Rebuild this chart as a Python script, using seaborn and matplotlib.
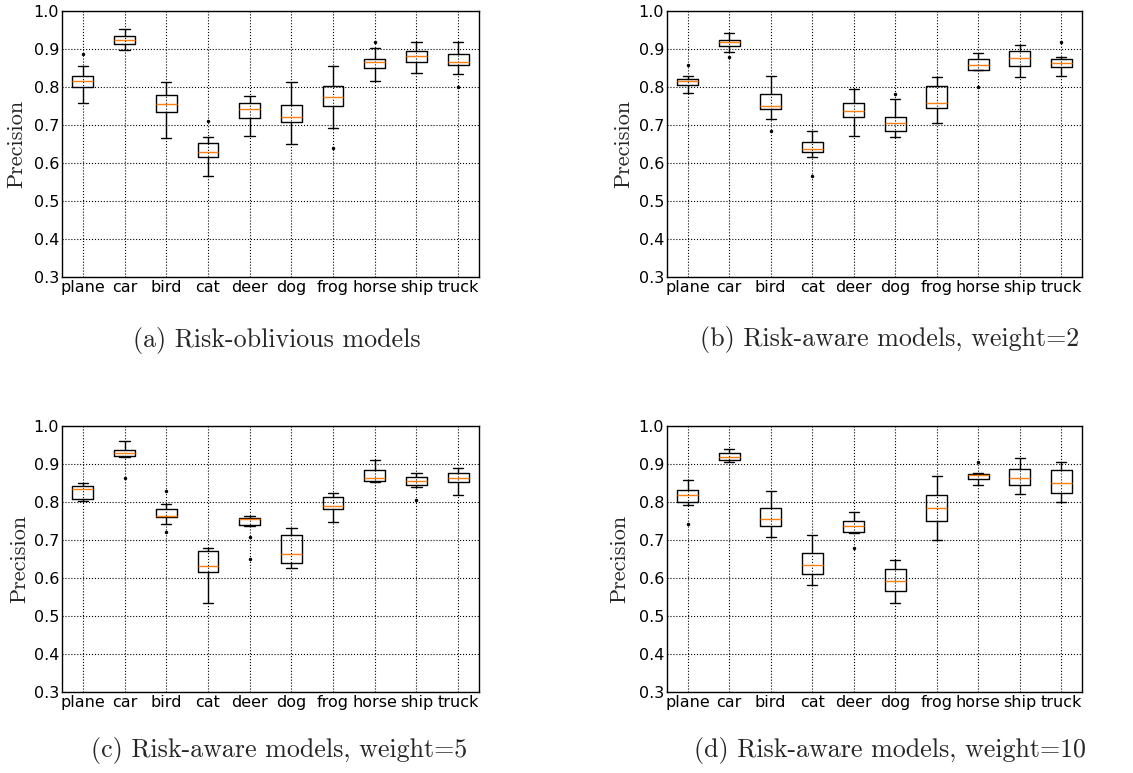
import matplotlib
matplotlib.use("Agg")
import matplotlib.pyplot as plt
import seaborn as sns
import pandas as pd

categories = ["plane", "car", "bird", "cat", "deer", "dog", "frog", "horse", "ship", "truck"]

# five-number summaries per category: whisker low, q1, median, q3, whisker high
a_low = [0.758, 0.898, 0.667, 0.566, 0.672, 0.649, 0.693, 0.817, 0.837, 0.833]
a_q1 = [0.800, 0.913, 0.734, 0.617, 0.718, 0.708, 0.749, 0.849, 0.865, 0.857]
a_med = [0.815, 0.924, 0.756, 0.628, 0.741, 0.722, 0.775, 0.866, 0.882, 0.865]
a_q3 = [0.829, 0.933, 0.779, 0.652, 0.758, 0.753, 0.803, 0.873, 0.894, 0.888]
a_high = [0.854, 0.953, 0.812, 0.668, 0.777, 0.812, 0.856, 0.903, 0.919, 0.918]
a_out_cat = ["plane", "cat", "frog", "horse", "truck"]
a_out_val = [0.888, 0.710, 0.639, 0.919, 0.799]

b_low = [0.784, 0.891, 0.715, 0.616, 0.672, 0.669, 0.706, 0.845, 0.826, 0.829]
b_q1 = [0.804, 0.907, 0.743, 0.628, 0.720, 0.683, 0.746, 0.846, 0.855, 0.852]
b_med = [0.816, 0.919, 0.751, 0.638, 0.738, 0.706, 0.759, 0.857, 0.877, 0.862]
b_q3 = [0.820, 0.925, 0.782, 0.656, 0.757, 0.722, 0.803, 0.875, 0.895, 0.875]
b_high = [0.828, 0.941, 0.830, 0.683, 0.796, 0.769, 0.827, 0.890, 0.910, 0.880]
b_out_cat = ["plane", "car", "bird", "cat", "dog", "horse", "truck"]
b_out_val = [0.859, 0.880, 0.683, 0.567, 0.781, 0.800, 0.918]

c_low = [0.803, 0.918, 0.741, 0.535, 0.737, 0.627, 0.748, 0.853, 0.840, 0.818]
c_q1 = [0.808, 0.920, 0.761, 0.616, 0.740, 0.640, 0.781, 0.855, 0.846, 0.852]
c_med = [0.834, 0.930, 0.762, 0.632, 0.755, 0.664, 0.789, 0.862, 0.855, 0.864]
c_q3 = [0.843, 0.937, 0.782, 0.671, 0.759, 0.714, 0.813, 0.884, 0.866, 0.876]
c_high = [0.849, 0.961, 0.796, 0.679, 0.762, 0.732, 0.825, 0.911, 0.877, 0.890]
c_out_cat = ["car", "bird", "bird", "deer", "deer", "ship"]
c_out_val = [0.864, 0.828, 0.721, 0.708, 0.650, 0.804]

d_low = [0.791, 0.904, 0.707, 0.581, 0.718, 0.535, 0.699, 0.845, 0.822, 0.801]
d_q1 = [0.801, 0.911, 0.738, 0.611, 0.722, 0.566, 0.750, 0.860, 0.846, 0.825]
d_med = [0.818, 0.918, 0.755, 0.633, 0.738, 0.593, 0.783, 0.870, 0.863, 0.851]
d_q3 = [0.832, 0.930, 0.784, 0.667, 0.750, 0.624, 0.818, 0.875, 0.887, 0.885]
d_high = [0.858, 0.939, 0.829, 0.714, 0.774, 0.647, 0.868, 0.877, 0.915, 0.904]
d_out_cat = ["plane", "deer", "horse"]
d_out_val = [0.742, 0.678, 0.906]

captions = [
    "(a) Risk-oblivious models",
    "(b) Risk-aware models, weight=2",
    "(c) Risk-aware models, weight=5",
    "(d) Risk-aware models, weight=10",
]
y_ticks = [0.3, 0.4, 0.5, 0.6, 0.7, 0.8, 0.9, 1.0]
y_label = "Precision"

panels = [
    (a_low, a_q1, a_med, a_q3, a_high, a_out_cat, a_out_val),
    (b_low, b_q1, b_med, b_q3, b_high, b_out_cat, b_out_val),
    (c_low, c_q1, c_med, c_q3, c_high, c_out_cat, c_out_val),
    (d_low, d_q1, d_med, d_q3, d_high, d_out_cat, d_out_val),
]

sns.set_style("white")
plt.rcParams["font.family"] = ["DejaVu Sans"]

W, H = 1133, 773
fig = plt.figure(figsize=(W / 100, H / 100), dpi=100)

ax_px = [(62, 11), (667, 11), (62, 426), (667, 426)]
ax_w, ax_h = [417, 415, 417, 415], 266
cap_px = [(277, 340), (890, 339), (279, 751), (890, 751)]
lab_off = [-0.086, -0.082, -0.079, -0.092]

serif = "cmr10"

for i, (lo, q1, med, q3, hi, oc, ov) in enumerate(panels):
    x0, y0 = ax_px[i]
    ax = fig.add_axes([x0 / W, 1 - (y0 + ax_h) / H, ax_w[i] / W, ax_h / H])
    rows = []
    for j, c in enumerate(categories):
        for v in (lo[j], q1[j], med[j], q3[j], hi[j]):
            rows.append((c, v))
    df = pd.DataFrame(rows, columns=["cat", "val"])
    sns.boxplot(data=df, x="cat", y="val", order=categories, whis=(0, 100),
                width=0.5, fill=False, color="black", linewidth=1.0,
                showfliers=False, ax=ax,
                medianprops=dict(color="#ff7f0e", linewidth=1.0),
                boxprops=dict(color="black"),
                whiskerprops=dict(color="black"),
                capprops=dict(color="black"))
    odf = pd.DataFrame({"cat": oc, "val": ov})
    sns.stripplot(data=odf, x="cat", y="val", order=categories, jitter=False,
                  color="black", size=2.5, ax=ax, zorder=5)
    ax.set_ylim(0.3, 1.0)
    ax.set_xlim(-0.5, len(categories) - 0.5)
    ax.set_yticks(y_ticks)
    ax.set_yticklabels([f"{t:.1f}" for t in y_ticks])
    ax.set_xlabel("")
    ax.set_ylabel(y_label, family=serif, fontsize=16)
    ax.yaxis.set_label_coords(lab_off[i], 0.5)
    ax.grid(True, color="black", linestyle=":", linewidth=0.8)
    ax.set_axisbelow(True)
    ax.tick_params(axis="both", length=0, pad=2, labelsize=11.5, colors="black")
    for s in ax.spines.values():
        s.set_visible(True)
        s.set_color("black")
        s.set_linewidth(1.0)
    cx, cy = cap_px[i]
    fig.text(cx / W, 1 - cy / H, captions[i], ha="center", va="center",
             family=serif, fontsize=18.7)

fig.savefig("out.png", dpi=100)
